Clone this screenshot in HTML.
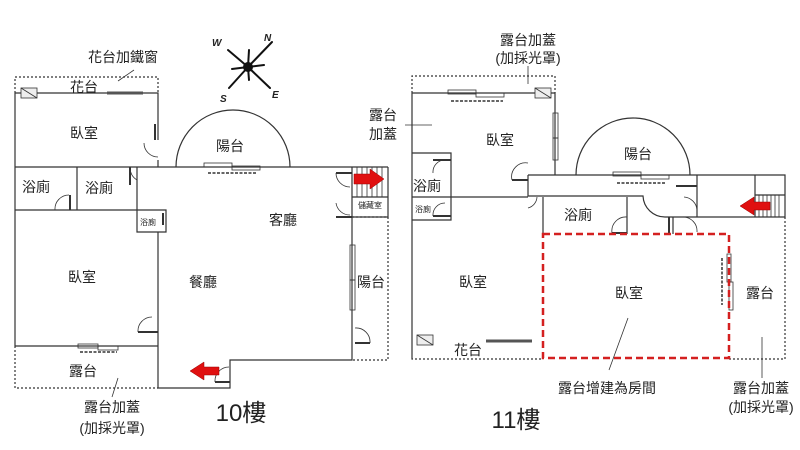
<!DOCTYPE html>
<html><head><meta charset="utf-8"><style>
body{margin:0;background:#fff}
svg{display:block}
text{font-family:"Liberation Sans","Noto Sans CJK TC",sans-serif;fill:#222}
</style></head><body>
<svg width="800" height="450" viewBox="0 0 800 450" xmlns="http://www.w3.org/2000/svg">
<g stroke="#333" stroke-width="1.2" fill="none">
<!-- LEFT PLAN dotted -->
<path d="M15,93 V77 H158 V93 M15,346 V388 H158 M352,217 H388 V360 H352" stroke-dasharray="2,2"/>
<path d="M15,93 H158 V140 M158,160 V167 M15,93 V346 M15,167 H388 M15,210 H137 M77,167 V210 M137,167 V232 H166 V210 H137 M158,232 V388 H230 V360 H352 V167 M388,167 V217 H352 M352,197 H388 M15,346 H158"/>
<path d="M176,167 A57,57 0 0 1 290,167"/>
<path d="M144,143 A14,14 0 0 0 158,157 M130,167 A14,14 0 0 0 137,180 M69,195 A14,14 0 0 0 55,210 M152,317 A14,14 0 0 0 138,332 M336,173 A14,14 0 0 0 350,187 M336,203 A14,14 0 0 0 350,215 M355,328 A14,14 0 0 1 370,343 M229,367 A14,14 0 0 0 215,382" stroke-width="0.8"/>
<path d="M155,124 V140 M130,167 V185 M70,195 V210 M163,213 V225 M138,332 H158 M336,173 H352 M336,217 H352 M355,343 H370 M215,382 H230" stroke-width="2"/>
<path d="M357,167V197 M362,167V197 M367,167V197 M372,167V197 M377,167V197 M382,167V197" stroke-width="0.8"/>
<rect x="21" y="88" width="16" height="10" fill="#eee" stroke-width="0.8"/><path d="M21,88 L37,98" stroke-width="0.8"/>
<path d="M107,93 H143" stroke-width="3" stroke="#555"/>
<rect x="204" y="163" width="28" height="4" stroke-width="0.8"/><rect x="232" y="166" width="28" height="4" stroke-width="0.8"/>
<path d="M208,173 H256" stroke-dasharray="3,1.5" stroke-width="1.5"/>
<rect x="350" y="245" width="5" height="35" stroke-width="0.8"/><rect x="350" y="280" width="5" height="30" stroke-width="0.8"/>
<rect x="78" y="344" width="20" height="4" stroke-width="0.8"/><rect x="98" y="346" width="20" height="4" stroke-width="0.8"/>
<path d="M80,352 H117" stroke-dasharray="3,1.5" stroke-width="1.5"/>
<path d="M134,70 L118,81" stroke-width="0.8"/>
<path d="M112,397 L118,378" stroke-width="0.8"/>

<!-- RIGHT PLAN -->
<path d="M412,93 V76 H555 V93 M412,358 V359 H543 M729,359 H785 V217" stroke-dasharray="2,2"/>
<path d="M412,93 H555 V175 M412,93 V358 M412,153 H451 V220 H412 M412,197 H528 M528,175 H785 V217 H665 M528,175 V196 H643 A22,22 0 0 0 665,217 M697,175 V217 M543,197 V234 M627,197 V234 M673,217 V234 M755,175 V217 M755,195 H785"/>
<path d="M576,175 A57,57 0 0 1 690,175"/>
<path d="M528,163 A14,14 0 0 0 512,180 M537,197 A12,12 0 0 1 528,208 M445,160 A12,12 0 0 0 433,173 M445,203 A12,12 0 0 0 433,216 M627,217 A14,14 0 0 0 612,233 M697,210 A14,14 0 0 0 684,197 M683,217 A14,14 0 0 1 697,232" stroke-width="0.8"/>
<path d="M512,180 H528 M433,160 H451 M433,216 H451 M676,186 H697 M669,217 V233 M612,233 H627" stroke-width="2"/>
<path d="M759,195V217 M763,195V217 M767,195V217 M771,195V217 M775,195V217 M779,195V217" stroke-width="0.8"/>
<rect x="535" y="88" width="16" height="10" fill="#eee" stroke-width="0.8"/><path d="M535,88 L551,98" stroke-width="0.8"/>
<rect x="417" y="335" width="16" height="10" fill="#eee" stroke-width="0.8"/><path d="M417,335 L433,345" stroke-width="0.8"/>
<path d="M486,341 H532" stroke-width="3" stroke="#555"/>
<rect x="448" y="90" width="28" height="4" stroke-width="0.8"/><rect x="476" y="93" width="28" height="4" stroke-width="0.8"/>
<path d="M451,101 H503" stroke-dasharray="3,1.5" stroke-width="1.5"/>
<rect x="613" y="172" width="28" height="4" stroke-width="0.8"/><rect x="641" y="175" width="28" height="4" stroke-width="0.8"/>
<path d="M617,183 H665" stroke-dasharray="3,1.5" stroke-width="1.5"/>
<rect x="553" y="113" width="5" height="25" stroke-width="0.8"/><rect x="553" y="138" width="5" height="22" stroke-width="0.8"/>
<rect x="727" y="254" width="4" height="28" stroke-width="0.8"/><rect x="729" y="282" width="4" height="28" stroke-width="0.8"/>
<path d="M722,258 V305" stroke-dasharray="3,1.5" stroke-width="1.5"/>
<path d="M528,66 V84 M405,125 H432 M628,318 L609,370 M762,337 V378" stroke-width="0.8"/>
</g>
<rect x="543" y="234" width="186" height="124" fill="none" stroke="#d42020" stroke-width="2.5" stroke-dasharray="7,4"/>
<g fill="#e01010" stroke="#900" stroke-width="0.5">
<path d="M354,174 H370 V169 L384,179 L370,189 V184 H354 z"/>
<path d="M219,367 H204 V362 L190,371 L204,380 V375 H219 z"/>
<path d="M770,202 H754 V197 L740,206 L754,215 V210 H770 z"/>
</g>
<g stroke="#111" stroke-width="2" stroke-linecap="round">
<path d="M248,67 L272,42 M248,67 L229,88 M248,67 L228,50 M248,67 L270,88 M248,67 L249,50 M248,67 L249,80 M248,67 L232,69 M248,67 L264,65"/>
<circle cx="248" cy="67" r="4" fill="#111"/>
</g>
<g font-weight="bold" font-size="10" font-style="italic">
<text x="212" y="46">W</text><text x="264" y="41">N</text><text x="220" y="102">S</text><text x="272" y="98">E</text>
</g>
<g font-size="14" text-anchor="middle">
<text x="123" y="62">花台加鐵窗</text>
<text x="84" y="92">花台</text>
<text x="84" y="138">臥室</text>
<text x="36" y="192">浴廁</text>
<text x="99" y="193">浴廁</text>
<text x="230" y="151">陽台</text>
<text x="283" y="225">客廳</text>
<text x="82" y="282">臥室</text>
<text x="203" y="287">餐廳</text>
<text x="371" y="287">陽台</text>
<text x="83" y="376">露台</text>
<text x="112" y="412">露台加蓋</text>
<text x="112" y="433">(加採光罩)</text>
<text x="528" y="45">露台加蓋</text>
<text x="528" y="63">(加採光罩)</text>
<text x="383" y="120">露台</text>
<text x="383" y="139">加蓋</text>
<text x="500" y="145">臥室</text>
<text x="638" y="159">陽台</text>
<text x="427" y="191">浴廁</text>
<text x="578" y="220">浴廁</text>
<text x="473" y="287">臥室</text>
<text x="629" y="298">臥室</text>
<text x="760" y="298">露台</text>
<text x="468" y="355">花台</text>
<text x="607" y="393">露台增建為房間</text>
<text x="761" y="393">露台加蓋</text>
<text x="761" y="412">(加採光罩)</text>
</g>
<g font-size="8" text-anchor="middle">
<text x="148" y="225">浴廁</text>
<text x="370" y="208">儲藏室</text>
<text x="423" y="212">浴廁</text>
</g>
<text x="241" y="421" font-size="24" text-anchor="middle">10樓</text>
<text x="516" y="428" font-size="24" text-anchor="middle">11樓</text>
</svg>
</body></html>
